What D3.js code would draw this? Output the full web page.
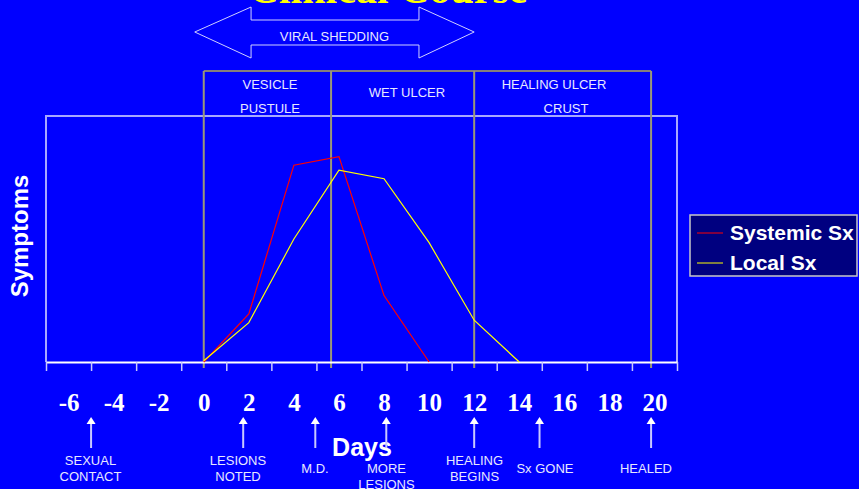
<!DOCTYPE html>
<html>
<head>
<meta charset="utf-8">
<title>Clinical Course</title>
<script src="https://d3js.org/d3.v7.min.js"></script>
<style>
  html, body { margin: 0; padding: 0; background: #0000ff; }
  svg { display: block; }
  .sans { font-family: Arial, "Liberation Sans", sans-serif; }
  .serif { font-family: "Times New Roman", "Liberation Serif", serif; }
</style>
</head>
<body>
<svg id="chart" width="859" height="489"></svg>
<script>
// day labels shown under the axis
const dayLabels = [-6, -4, -2, 0, 2, 4, 6, 8, 10, 12, 14, 16, 18, 20];
// tick marks sit between the labels
const tickDays = [-7, -5, -3, -1, 1, 3, 5, 7, 9, 11, 13, 15, 17, 19, 21];

// symptom level (0-100)
const systemicDays = [0, 2, 4, 6, 8, 10];
const systemicVals = [0, 19.5, 80, 83.5, 27, 0];
const localDays = [0, 2, 4, 6, 8, 10, 12, 14];
const localVals = [0.5, 16, 50, 78, 74.5, 48.5, 17, 0];

// stages of the lesion
const phaseBounds = [0, 5.65, 12, 19.85];
const phaseLabels = [["VESICLE", "PUSTULE"], ["WET ULCER"], ["HEALING ULCER", "CRUST"]];

// events under the axis
const eventDays = [-5, 1.75, 4.95, 8.1, 12, 14.9, 19.85];
const eventLabels = [["SEXUAL", "CONTACT"], ["LESIONS", "NOTED"], ["M.D."], ["MORE", "LESIONS"],
                     ["HEALING", "BEGINS"], ["Sx GONE"], ["HEALED"]];

const svg = d3.select("#chart");
const W = 859, H = 489;
const plot = {left: 46, right: 677, top: 116, bottom: 362};

svg.append("rect").attr("width", W).attr("height", H).attr("fill", "#0000ff");

const x = d3.scaleLinear().domain([-7, 21]).range([plot.left, plot.right]);
const y = d3.scaleLinear().domain([0, 100]).range([plot.bottom, plot.top]);

// title, mostly off the top of the slide
svg.append("text")
    .attr("class", "serif")
    .attr("x", 388).attr("y", 3)
    .attr("text-anchor", "middle")
    .attr("font-size", 42).attr("font-weight", "bold")
    .attr("fill", "#ffff00")
    .text("Clinical Course");

// viral shedding double arrow, spans day -0.4 .. 12
const va = {l: x(-0.4), r: x(12), hl: x(2.1), hr: x(9.55), cy: 32};
svg.append("path")
    .attr("d", d3.line()([
        [va.l, va.cy], [va.hl, 7], [va.hl, 20], [va.hr, 20], [va.hr, 7], [va.r, va.cy],
        [va.hr, 58], [va.hr, 45], [va.hl, 45], [va.hl, 58]
    ]) + "Z")
    .attr("fill", "none")
    .attr("stroke", "#d0d0ff")
    .attr("stroke-width", 1);
svg.append("text")
    .attr("class", "sans")
    .attr("x", (va.l + va.r) / 2).attr("y", 41)
    .attr("text-anchor", "middle")
    .attr("font-size", 13)
    .attr("fill", "#e8e8ff")
    .text("VIRAL SHEDDING");

// plot frame
svg.append("path")
    .attr("d", `M${plot.left},${plot.bottom}V${plot.top}H${plot.right}V${plot.bottom}`)
    .attr("fill", "none")
    .attr("stroke", "#a8a8ff")
    .attr("stroke-width", 2);

// phase box
svg.append("line")
    .attr("x1", x(phaseBounds[0])).attr("x2", x(phaseBounds[phaseBounds.length - 1]))
    .attr("y1", 71).attr("y2", 71)
    .attr("stroke", "#b0a850").attr("stroke-width", 1.5);
svg.selectAll(".phase-line")
    .data(phaseBounds)
    .enter().append("line")
    .attr("class", "phase-line")
    .attr("x1", d => x(d)).attr("x2", d => x(d))
    .attr("y1", 71).attr("y2", 368)
    .attr("stroke", "#9a9878").attr("stroke-width", 2);

phaseLabels.forEach((lines, i) => {
    const cx = [270, 407, 554][i];
    const t = svg.append("g").attr("class", "sans").attr("fill", "#e8e8ff").attr("font-size", 13)
        .attr("text-anchor", "middle");
    if (lines.length === 1) {
        t.append("text").attr("x", cx).attr("y", 97).text(lines[0]);
    } else {
        t.append("text").attr("x", cx).attr("y", 89).text(lines[0]);
        t.append("text").attr("x", i === 2 ? cx + 12 : cx).attr("y", 113).text(lines[1]);
    }
});

// axis: ticks between labels, labels at even days
const tickAxis = svg.append("g")
    .attr("transform", `translate(0,${plot.bottom})`)
    .call(d3.axisBottom(x).tickValues(tickDays).tickFormat("").tickSize(9).tickSizeOuter(0));
tickAxis.select(".domain").attr("stroke", "#ffffff").attr("stroke-width", 2);
tickAxis.selectAll(".tick line").attr("stroke", "#c8c8ff").attr("stroke-width", 1.5);

const labelAxis = svg.append("g")
    .attr("transform", `translate(0,${plot.bottom})`)
    .call(d3.axisBottom(x).tickValues(dayLabels).tickFormat(d => String(d)).tickSize(0));
labelAxis.select(".domain").remove();
labelAxis.selectAll(".tick text")
    .attr("font-family", "'Times New Roman', 'Liberation Serif', serif")
    .attr("font-size", 25).attr("font-weight", "bold")
    .attr("fill", "#ffffff")
    .attr("dy", 0).attr("y", 49);

// symptom lines
const line = d3.line().x(d => x(d[0])).y(d => y(d[1]));
svg.append("path")
    .datum(systemicDays.map((d, i) => [d, systemicVals[i]]))
    .attr("d", line).attr("fill", "none").attr("stroke", "#ff0000").attr("stroke-width", 1.2);
svg.append("path")
    .datum(localDays.map((d, i) => [d, localVals[i]]))
    .attr("d", line).attr("fill", "none").attr("stroke", "#ffff00").attr("stroke-width", 1.2);

// axis titles
svg.append("text")
    .attr("class", "sans")
    .attr("transform", "translate(28,236) rotate(-90)")
    .attr("text-anchor", "middle")
    .attr("font-size", 24).attr("font-weight", "bold")
    .attr("fill", "#ffffff")
    .text("Symptoms");
svg.append("text")
    .attr("class", "sans")
    .attr("x", 362).attr("y", 456)
    .attr("text-anchor", "middle")
    .attr("font-size", 25).attr("font-weight", "bold")
    .attr("fill", "#ffffff")
    .text("Days");

// event arrows and notes
const ev = svg.append("g");
eventDays.forEach((d, i) => {
    const ax = x(d);
    ev.append("line")
        .attr("x1", ax).attr("x2", ax).attr("y1", 423).attr("y2", 448)
        .attr("stroke", "#c8c8ff").attr("stroke-width", 2);
    ev.append("path")
        .attr("d", d3.line()([[ax, 417], [ax + 4.5, 424], [ax - 4.5, 424]]) + "Z")
        .attr("fill", "#ffffff");
    const lines = eventLabels[i];
    const cx = [90.5, 238, 315, 386.5, 474.5, 545, 646][i];
    lines.forEach((s, k) => {
        ev.append("text")
            .attr("class", "sans")
            .attr("x", cx)
            .attr("y", lines.length === 1 ? 473 : (i === 3 ? 473 : 465) + k * 16)
            .attr("text-anchor", "middle")
            .attr("font-size", 13)
            .attr("fill", "#e8e8ff")
            .text(s);
    });
});

// legend
const lg = svg.append("g").attr("transform", "translate(690,215)");
lg.append("rect").attr("width", 167).attr("height", 61)
    .attr("fill", "#000080").attr("stroke", "#c8c8c8").attr("stroke-width", 1.5);
[["Systemic Sx", "#ff0000"], ["Local Sx", "#ffff00"]].forEach((it, i) => {
    const ly = 18 + i * 30;
    lg.append("line").attr("x1", 7).attr("x2", 33).attr("y1", ly).attr("y2", ly)
        .attr("stroke", it[1]).attr("stroke-width", 1);
    lg.append("text")
        .attr("class", "sans")
        .attr("x", 40).attr("y", ly + 7)
        .attr("font-size", 21).attr("font-weight", "bold")
        .attr("fill", "#ffffff")
        .text(it[0]);
});
</script>
</body>
</html>
